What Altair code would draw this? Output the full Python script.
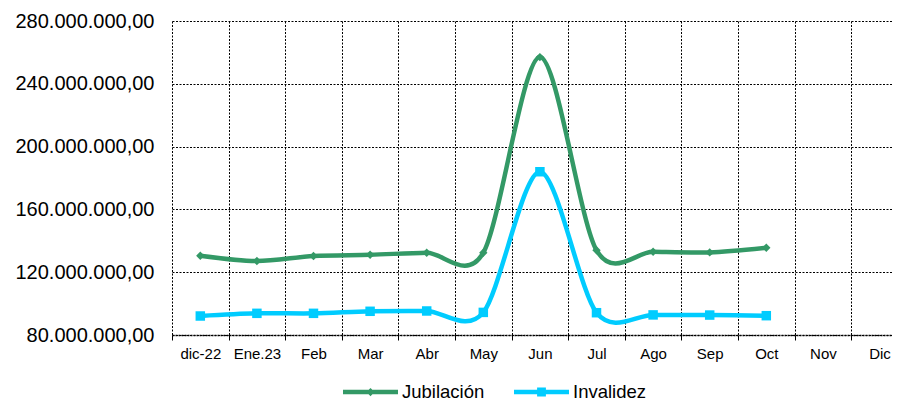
import altair as alt
import pandas as pd

months = ["dic-22", "Ene.23", "Feb", "Mar", "Abr", "May", "Jun", "Jul", "Ago", "Sep", "Oct", "Nov", "Dic"]
series = ["Jubilación", "Invalidez"]
jubilacion = [130.5e6, 127.1e6, 130.3e6, 131.1e6, 132.4e6, 132.4e6, 257.0e6, 134.0e6, 133.0e6, 132.6e6, 135.6e6, None, None]
invalidez = [92.1e6, 93.8e6, 93.8e6, 95.1e6, 95.3e6, 94.4e6, 184.0e6, 94.2e6, 92.8e6, 92.7e6, 92.3e6, None, None]
y_ticks = [80e6, 120e6, 160e6, 200e6, 240e6, 280e6]
colors = ["#339966", "#00CCFF"]

rows = []
for name, vals in zip(series, [jubilacion, invalidez]):
    for m, v in zip(months, vals):
        if v is not None:
            rows.append({"mes": m, "serie": name, "valor": v})
df = pd.DataFrame(rows)

FONT = "Liberation Sans"

x_enc = alt.X(
    "mes:N",
    scale=alt.Scale(type="band", domain=months, paddingInner=0, paddingOuter=0, range=[0, 735.8]),
    bandPosition=0.5,
    title=None,
    axis=alt.Axis(
        tickBand="extent", grid=True, gridColor="#000000", gridDash=[2, 1.5], gridWidth=1,
        domainColor="#000000", domainWidth=1.5, domainDash=[2, 1],
        tickColor="#000000", tickSize=5, tickWidth=1,
        labelFontSize=15, labelColor="#000000", labelFont=FONT, labelPadding=6, labelAngle=0,
    ),
)
y_enc = alt.Y(
    "valor:Q",
    scale=alt.Scale(domain=[80e6, 280e6], nice=False, zero=False),
    title=None,
    axis=alt.Axis(
        values=y_ticks, grid=True, gridColor="#000000", gridDash=[2, 1.5], gridWidth=1,
        domain=False, ticks=False, labelFontSize=20, labelColor="#000000", labelFont=FONT,
        labelPadding=18,
        labelExpr="format(datum.value / 1000000, 'd') + '.000.000,00'",
    ),
)

base = alt.Chart(df).encode(x=x_enc, y=y_enc)

color_scale = alt.Scale(domain=series, range=colors)

lines = base.mark_line(interpolate="cardinal", tension=0.1, strokeWidth=4.5).encode(
    color=alt.Color("serie:N", scale=color_scale, legend=None),
    detail="serie:N",
)

points = base.mark_point(filled=True, opacity=1).encode(
    color=alt.Color("serie:N", scale=color_scale, legend=None),
    shape=alt.Shape("serie:N", scale=alt.Scale(domain=series, range=["diamond", "square"]), legend=None),
    size=alt.Size("serie:N", scale=alt.Scale(domain=series, range=[70, 90]), legend=None),
)

path_jub = "M-1,-0.082H1V0.082H-1Z M0,-0.15L0.15,0L0,0.15L-0.15,0Z"
path_inv = "M-1,-0.082H1V0.082H-1Z M-0.16,-0.16H0.16V0.16H-0.16Z"

leg = alt.Legend(
    orient="none", legendX=171, legendY=343.5, direction="horizontal", title=None,
    symbolSize=3025, symbolStrokeWidth=0, symbolOpacity=1,
    labelFontSize=18.5, labelFont=FONT, labelColor="#000000", labelOffset=4,
    columnPadding=29, padding=0,
)

legend_layer = base.mark_point(filled=True, opacity=0).encode(
    color=alt.Color("serie:N", scale=color_scale, legend=leg),
    shape=alt.Shape("serie:N", scale=alt.Scale(domain=series, range=[path_jub, path_inv]), legend=leg),
)

chart = (
    alt.layer(lines, points, legend_layer)
    .resolve_scale(color="independent", shape="independent")
    .properties(
        width=720,
        height=314,
        autosize=alt.AutoSizeParams(type="none"),
        padding={"left": 164, "top": 13, "right": 0, "bottom": 67},
        background="white",
    )
    .configure_view(stroke=None)
)

chart.save("out.html", embed_options={"renderer": "svg", "actions": False})
